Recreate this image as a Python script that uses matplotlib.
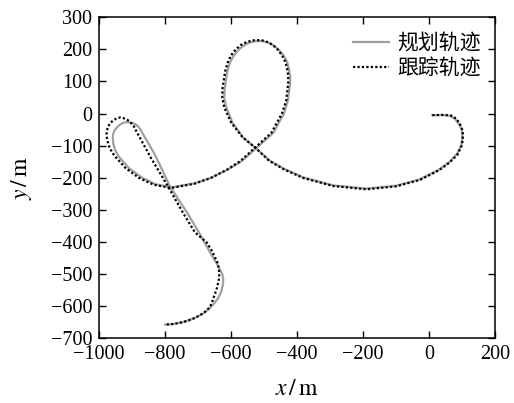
import matplotlib
matplotlib.use("Agg")
import matplotlib.pyplot as plt
from matplotlib.font_manager import FontProperties

plt.rcParams['font.family'] = ['Liberation Serif', 'DejaVu Serif']
plt.rcParams['mathtext.fontset'] = 'stix'

# planned path (grey)
plan_x = [10, 45, 65, 80, 92, 99, 101, 100, 97, 85, 63, 30, -28, -100, -190, -290,
          -381, -440, -482, -523, -563, -595, -615, -621, -619, -612, -604, -594,
          -580, -565, -548, -530, -515, -500, -485, -470, -455, -440, -430, -425,
          -421, -421, -428, -440, -472, -523, -570, -609, -660, -710, -780, -830,
          -870, -910, -940, -951, -957, -959, -958, -954, -947, -939, -930, -921,
          -912, -900, -890, -882, -875, -830, -786, -733, -695, -660, -645, -635,
          -627, -624, -625, -630, -638, -650, -665, -685, -712, -745, -775, -800]
plan_y = [-5, -5, -8, -18, -35, -50, -65, -85, -100, -125, -150, -175, -205, -225,
          -234, -224, -199, -172, -147, -110, -75, -30, 20, 50, 80, 130, 158, 178,
          196, 210, 220, 225, 226, 225, 220, 212, 198, 180, 160, 140, 118, 95, 40,
          0, -60, -107, -150, -174, -200, -217, -230, -220, -200, -170, -135, -115,
          -95, -78, -65, -53, -44, -36, -30, -27, -27, -29, -33, -40, -50, -130,
          -226, -310, -375, -440, -465, -485, -500, -516, -535, -555, -573, -590,
          -607, -624, -638, -650, -656, -658]

# tracked path (black dotted)
track_x = [10, 45, 67, 83, 94, 100, 103, 102, 99, 87, 63, 30, -28, -100, -190, -290,
           -381, -440, -485, -525, -566, -600, -621, -627, -626, -618, -610, -600,
           -586, -570, -553, -535, -520, -505, -490, -475, -460, -446, -436, -430,
           -427, -427, -433, -446, -478, -527, -572, -611, -662, -712, -782, -835,
           -880, -920, -955, -968, -975, -978, -977, -973, -965, -956, -945, -935,
           -925, -914, -905, -896, -890, -845, -792, -745, -710, -674, -660, -649,
           -641, -637, -636, -637, -642, -649, -656, -664, -678, -695, -718, -745,
           -775, -801]
track_y = [-5, -4, -6, -16, -33, -48, -65, -85, -100, -127, -152, -177, -207, -227,
           -236, -226, -201, -174, -147, -108, -73, -28, 20, 50, 80, 132, 160, 182,
           200, 214, 223, 228, 229, 228, 223, 215, 201, 182, 162, 140, 118, 95, 40,
           0, -60, -106, -148, -174, -201, -219, -232, -222, -200, -170, -130, -108,
           -85, -68, -55, -40, -28, -20, -14, -12, -15, -20, -28, -38, -50, -135,
           -226, -311, -370, -402, -425, -448, -466, -484, -500, -516, -540, -562,
           -583, -603, -617, -629, -641, -650, -656, -658]

fig = plt.figure(figsize=(5.14, 4.03), dpi=100)
ax = fig.add_axes([0.193, 0.161, 0.770, 0.796])

ax.plot(plan_x, plan_y, color='#a0a0a0', lw=1.6, label='规划轨迹')
ax.plot(track_x, track_y, color='black', lw=1.6, ls=(0, (1, 1)), label='跟踪轨迹')

ax.set_xlim(-1000, 200)
ax.set_ylim(-700, 300)
ax.set_xticks(range(-1000, 201, 200))
ax.set_yticks(range(-700, 301, 100))
ax.tick_params(direction='in', top=True, right=True, length=5, width=1,
               labelsize=14.5)
ax.tick_params(axis='x', pad=5)
ax.tick_params(axis='y', pad=5)
for s in ax.spines.values():
    s.set_linewidth(1.1)

ax.set_xlabel(r'$x\,/\,\mathrm{m}$', fontsize=17, labelpad=11)
ax.set_ylabel(r'$y\,/\,\mathrm{m}$', fontsize=17, labelpad=12)

cjk = FontProperties(family=['Noto Sans CJK SC'], size=15)
ax.legend(prop=cjk, frameon=False, loc='upper right', bbox_to_anchor=(1.0, 1.0),
          handlelength=1.7, handletextpad=0.4, labelspacing=0.15, borderaxespad=0.3)

fig.savefig('out.png', dpi=100)
